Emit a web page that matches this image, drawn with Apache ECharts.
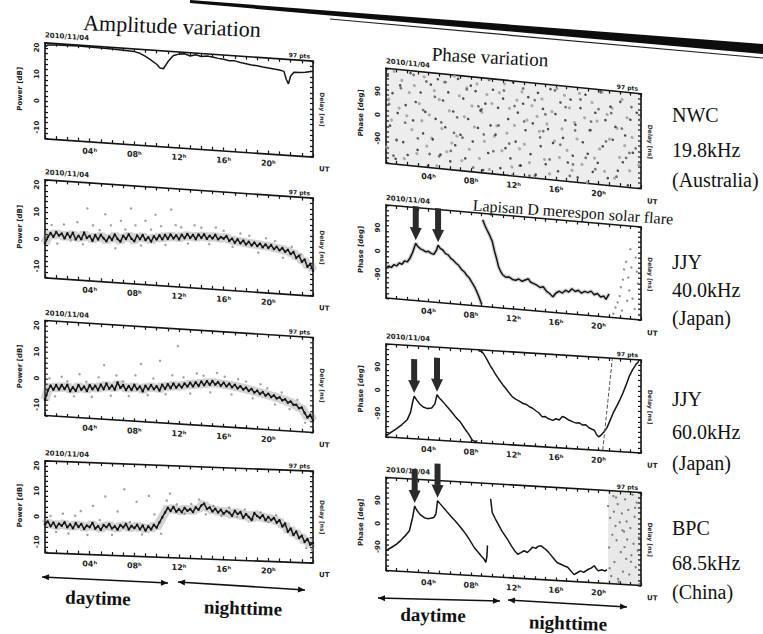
<!DOCTYPE html>
<html>
<head>
<meta charset="utf-8">
<script src="https://cdn.jsdelivr.net/npm/echarts@6/dist/echarts.min.js"></script>
<style>
html, body { margin: 0; padding: 0; background: #fff; }
#page { position: relative; width: 763px; height: 634px; overflow: hidden; }
#base { position: absolute; left: 0; top: 0; width: 763px; height: 634px; }
.panel { position: absolute; }
</style>
</head>
<body>
<div id="page"><div id="base"></div></div>
<script>
// tick labels
const hourTickValues = [4, 8, 12, 16, 20];
const hourTickLabels = ['04ʰ', '08ʰ', '12ʰ', '16ʰ', '20ʰ'];
const ampTickValues = [-10, 0, 10, 20];
const phaseTickValues = [-90, 0, 90];
const dateLabel = '2010/11/04';
const stations = [
  ['NWC', '19.8kHz', '(Australia)'],
  ['JJY', '40.0kHz', '(Japan)'],
  ['JJY', '60.0kHz', '(Japan)'],
  ['BPC', '68.5kHz', '(China)']
];

// NWC amplitude [dB]
const nwcAmpHours = [0, 0.3, 1, 2, 3, 4, 5, 6, 7, 8, 8.5, 9, 9.5, 10, 10.3, 10.6, 11, 11.5, 12, 12.5,
  13, 13.5, 14, 14.5, 15, 15.5, 16, 16.5, 17, 17.5, 18, 18.5, 19, 19.5, 20, 20.5, 21, 21.4, 21.6, 21.8,
  22, 22.3, 22.8, 23.3, 24];
const nwcAmpValues = [20.5, 21.3, 21.5, 21.6, 21.7, 21.6, 21.5, 21.4, 21.2, 21.0, 20.5, 19.5, 18.2, 16.8, 15.5, 15.3, 18.0, 20.5, 21.2, 21.5,
  20.8, 21.4, 20.9, 21.2, 21.0, 20.6, 20.4, 20.0, 20.1, 19.6, 19.3, 19.0, 18.8, 18.5, 18.3, 18.0, 17.8, 17.4, 14.5, 12.8,
  15.8, 17.3, 17.4, 17.6, 18.2];

// amplitude every 15 min from 00 UT [dB]
const ampStep = 0.25;
const jjy40Amp = [
  -1.5, 1.0, 2.5, 1.2, 3.0, 1.8, 2.6, 0.9,
  2.8, 1.4, 3.2, 0.8, 2.2, 1.0, 3.5, 1.6,
  2.4, 0.7, 2.9, 1.3, 3.1, 1.9, 0.9, 2.7,
  1.5, 3.6, 2.0, 1.1, 3.3, 2.2, 4.0, 2.4,
  1.6, 3.8, 2.5, 4.1, 2.3, 3.4, 1.9, 3.9,
  2.8, 4.4, 3.0, 4.7, 3.3, 5.0, 3.6, 4.8,
  3.4, 5.2, 4.0, 5.6, 4.2, 5.4, 3.9, 5.7,
  4.5, 5.9, 4.3, 5.5, 4.6, 6.0, 4.4, 5.3,
  4.8, 5.8, 4.1, 5.0, 3.6, 4.9, 3.5, 4.6,
  3.2, 4.3, 3.0, 4.1, 2.9, 3.9, 2.6, 3.7,
  2.5, 3.6, 2.2, 3.1, 1.9, 2.8, 1.5, 2.3,
  0.8, 1.6, -0.5, 0.4, -1.8, -0.9, -3.5, -2.4,
  -4.8];
const jjy60Amp = [
  -8.0, -4.5, -2.5, -4.0, -2.2, -3.8, -2.0, -3.5,
  -1.8, -4.2, -2.6, -3.9, -1.6, -3.3, -2.1, -3.7,
  -1.4, -2.9, -1.5, -3.1, -0.9, -2.6, -0.4, -2.3,
  -1.0, -2.5, 0.3, -1.7, -0.6, -2.4, -0.8, -2.2,
  -0.2, -1.9, -0.7, -2.5, -0.3, -1.6, 0.1, -1.4,
  -0.2, -1.8, 0.5, -1.0, 0.8, -0.6, 1.2, -0.3,
  1.0, -0.1, 1.5, 0.4, 1.9, 0.6, 2.2, 0.9,
  2.6, 1.3, 2.9, 1.6, 3.1, 1.8, 2.8, 1.5,
  2.7, 1.4, 2.5, 1.2, 2.2, 0.9, 1.8, 0.6,
  1.4, 0.2, 1.0, -0.3, 0.5, -0.7, 0.1, -1.2,
  -0.4, -1.6, -0.9, -2.0, -1.5, -2.6, -2.1, -3.3,
  -2.8, -4.0, -3.9, -5.2, -4.8, -6.8, -8.5, -7.4,
  -9.5];
const bpcAmp = [
  -3.0, -1.8, -3.6, -2.2, -4.0, -2.5, -3.3, -1.9,
  -3.8, -2.6, -4.1, -2.0, -3.5, -2.3, -4.2, -2.8,
  -3.4, -1.7, -3.9, -2.9, -4.3, -2.4, -3.2, -1.9,
  -3.6, -2.7, -4.0, -2.1, -3.0, -1.6, -3.7, -2.3,
  -3.1, -1.8, -3.5, -2.0, -3.9, -2.2, -3.4, -1.5,
  -2.6, -0.5, 1.5, 3.5, 5.4, 4.2, 5.8, 4.0,
  5.0, 3.9, 5.6, 4.5, 5.2, 4.1, 6.0, 5.1,
  6.8, 7.6, 5.5, 6.2, 4.6, 5.7, 4.3, 5.4,
  3.9, 5.0, 4.4, 3.2, 5.2, 4.0, 4.8, 2.6,
  4.1, 3.0, 1.9, 4.6, 3.5, 2.8, 3.9, 2.0,
  3.3, 2.1, 3.0, 1.2, 2.2, -0.2, 1.0, -2.2,
  -0.9, -3.4, -2.0, -4.5, -3.6, -6.0, -4.8, -7.0,
  -6.2];

// scattered amplitude samples
const jjy40SpreadHours = [0.6, 1.1, 1.7, 2.3, 2.9, 3.4, 3.8, 4.3, 4.9, 5.4, 5.9, 6.3, 6.8, 7.2, 7.7, 8.1, 8.6, 9.0, 9.5, 9.9,
  10.4, 10.8, 11.3, 11.7, 12.2, 12.8, 13.4, 14.0, 14.7, 15.3, 16.0, 16.8, 17.5, 18.3, 19.1, 19.8, 20.6, 21.3, 22.1, 22.9];
const jjy40SpreadValues = [5.5, -1.2, 6.0, 0.3, 7.2, -0.8, 12.5, 6.4, 4.8, 10.8, 6.9, -1.5, 8.8, 5.7, 13.6, 7.5, 0.2, 9.4, 6.3, 11.9,
  7.8, 1.0, 14.2, 8.6, 7.9, 2.1, 9.0, 8.3, 2.4, 8.7, 7.7, 2.0, 7.1, 6.5, 0.5, 6.0, 5.2, -0.8, 3.5, 0.9];
const jjy60SpreadHours = [0.4, 0.9, 1.5, 2.0, 2.6, 3.1, 3.7, 4.2, 4.8, 5.3, 5.9, 6.4, 7.0, 7.5, 8.1, 8.6, 9.2, 9.7, 10.3, 10.8,
  11.4, 11.9, 12.4, 13.0, 13.6, 14.2, 14.8, 15.4, 16.1, 16.7, 17.3, 18.0, 18.6, 19.3, 19.9, 20.6, 21.2, 21.9, 22.6, 23.3];
const jjy60SpreadValues = [0.2, -6.5, 1.1, -0.5, -6.0, 2.5, -0.2, -5.8, 1.8, 6.5, -4.9, 2.9, 0.8, -4.6, 3.4, 7.8, -3.8, 2.6, 9.5, -3.0,
  4.3, 15.5, 3.8, -2.2, 5.6, 4.9, -1.3, 6.2, 5.0, -1.6, 4.4, 3.7, -2.5, 3.0, 1.6, -4.3, 0.4, -5.7, -2.0, -10.5];
const bpcSpreadHours = [0.5, 1.0, 1.6, 2.1, 2.7, 3.2, 3.8, 4.3, 4.9, 5.4, 6.0, 6.5, 7.1, 7.6, 8.2, 8.7, 9.3, 9.8, 10.4, 10.9,
  11.2, 11.8, 12.5, 13.1, 13.8, 14.4, 15.1, 15.8, 16.5, 17.2, 17.9, 18.6, 19.3, 20.0, 20.7, 21.4, 22.1, 22.8, 23.4, 23.9];
const bpcSpreadValues = [0.4, -5.8, 1.5, -6.2, 0.9, 2.8, -6.5, 5.0, -0.5, 8.9, -6.1, 3.2, 12.0, -0.8, 7.3, -5.5, 9.8, 2.6, -4.9, 8.2,
  11.0, 6.9, 3.3, 7.2, 9.1, 3.4, 6.8, 3.1, 6.4, 2.7, 5.9, 2.2, 5.0, 1.4, 4.1, 0.0, -1.6, -4.2, -8.3, -9.1];

// NWC phase [deg], no lock
const nwcPhaseDarkHours = [
  0.15, 0.38, 0.61, 0.9, 1.1, 1.33, 1.62, 1.85, 2.04, 2.31,
  2.55, 2.8, 2.97, 3.26, 3.49, 3.7, 3.95, 4.22, 4.4, 4.67,
  4.88, 5.13, 5.37, 5.58, 5.86, 6.05, 6.33, 6.52, 6.78, 7.01,
  7.27, 7.46, 7.73, 7.98, 8.16, 8.43, 8.65, 8.89, 9.14, 9.35,
  9.62, 9.84, 10.07, 10.31, 10.55, 10.76, 11.02, 11.24, 11.5, 11.71,
  11.96, 12.2, 12.41, 12.68, 12.9, 13.13, 13.39, 13.6, 13.82, 14.09,
  14.3, 14.56, 14.77, 15.03, 15.25, 15.48, 15.72, 15.95, 16.19, 16.42,
  16.66, 16.88, 17.11, 17.37, 17.58, 17.83, 18.04, 18.3, 18.52, 18.77,
  18.99, 19.24, 19.46, 19.7, 19.93, 20.18, 20.4, 20.65, 20.87, 21.12,
  21.34, 21.59, 21.82, 22.05, 22.29, 22.51, 22.76, 23.0, 23.23, 23.6];
const nwcPhaseDarkValues = [
  152, -37, 88, -161, 14, 120, -95, 47, -142, 171,
  -8, 63, -119, 101, -54, 29, -176, 135, -73, 6,
  158, -128, 79, -22, 112, -150, 41, -87, 167, -45,
  94, -133, 18, 146, -66, 127, -12, 55, -171, 83,
  -104, 2, 139, -31, 72, -157, 109, -79, 33, -116,
  175, -50, 61, -139, 97, -3, 124, -92, 26, -168,
  144, -58, 85, -125, 10, 163, -41, 70, -147, 116,
  -18, 50, -110, 131, -82, 37, -163, 102, -27, 155,
  -69, 22, -136, 90, -100, 178, -35, 66, -154, 119,
  -6, 44, -122, 141, -88, 15, -174, 77, -48, 106];
const nwcPhaseGrayHours = [
  0.05, 0.27, 0.52, 0.77, 0.98, 1.24, 1.49, 1.72, 1.96, 2.2,
  2.43, 2.67, 2.91, 3.14, 3.37, 3.6, 3.84, 4.08, 4.31, 4.55,
  4.79, 5.02, 5.26, 5.49, 5.73, 5.97, 6.2, 6.44, 6.67, 6.91,
  7.14, 7.38, 7.61, 7.85, 8.09, 8.32, 8.56, 8.79, 9.03, 9.26,
  9.5, 9.73, 9.97, 10.2, 10.44, 10.67, 10.91, 11.15, 11.38, 11.62,
  11.85, 12.09, 12.32, 12.56, 12.8, 13.03, 13.27, 13.5, 13.74, 13.97,
  14.21, 14.44, 14.68, 14.92, 15.15, 15.39, 15.62, 15.86, 16.09, 16.33,
  16.57, 16.8, 17.04, 17.27, 17.51, 17.74, 17.98, 18.21, 18.45, 18.69,
  18.92, 19.16, 19.39, 19.63, 19.86, 20.1, 20.34, 20.57, 20.81, 21.04,
  21.28, 21.51, 21.75, 21.98, 22.22, 22.46, 22.69, 22.93, 23.16, 23.8];
const nwcPhaseGrayValues = [
  -120, 64, -15, 171, -88, 33, 140, -157, 7, 96,
  -44, 125, -133, 58, -6, 162, -101, 19, -69, 113,
  -172, 81, -29, 149, -115, 42, -80, 176, -52, 103,
  -143, 25, 136, -97, 69, -10, 155, -128, 49, -61,
  118, -166, 86, -38, 3, 130, -90, 166, -21, 74,
  -148, 11, 108, -76, 142, -57, 36, -125, 93, -175,
  54, -2, 122, -107, 29, -160, 78, -33, 168, -94,
  16, 145, -64, 99, -138, 45, -17, 158, -112, 67,
  -179, 21, 128, -83, 59, -46, 172, -130, 88, -5,
  114, -152, 39, -71, 151, -24, 83, -118, 10, -92];
const nwcPhaseMidHours = [
  0.3, 0.7, 1.4, 1.8, 2.6, 3.0, 3.5, 4.1, 4.6, 5.2,
  5.6, 6.1, 6.7, 7.2, 7.6, 8.2, 8.7, 9.2, 9.7, 10.1,
  10.6, 11.1, 11.6, 12.1, 12.6, 13.0, 13.5, 14.0, 14.5, 15.0,
  15.4, 15.9, 16.4, 16.9, 17.3, 17.8, 18.3, 18.8, 19.3, 19.7,
  20.2, 20.7, 21.2, 21.7, 22.2, 22.6, 23.1, 23.5, 23.9, 1.0,
  3.8, 6.4, 9.0, 11.9, 14.8, 17.6, 20.0, 22.9, 12.9, 5.0];
const nwcPhaseMidValues = [
  45, -150, 110, -20, 165, -75, 35, -130, 90, -5,
  150, -110, 20, -55, 130, -165, 70, -35, 175, -95,
  5, 140, -60, 85, -140, 30, -175, 115, -25, 65,
  -105, 160, -45, 100, -160, 15, 135, -85, 55, -125,
  170, -15, 95, -145, 40, -70, 125, -30, 80, -90,
  145, -40, 60, -180, 0, -115, 105, -50, 155, -135];

// JJY 40 kHz phase [deg]
const jjy40PhaseHours = [0, 0.25, 0.5, 0.75, 1.0, 1.25, 1.5, 1.75, 2.0, 2.25, 2.5, 2.8, 3.0, 3.25, 3.5, 3.75, 4.0, 4.25, 4.5,
  4.75, 4.9, 5.1, 5.35, 5.6, 5.85, 6.1, 6.35, 6.6, 6.85, 7.1, 7.35, 7.6, 7.85, 8.1, 8.35, 8.6, 8.8, 9.0, null,
  9.1, 9.3, 9.5, 9.75, 10.0, 10.2, 10.4, 10.6, 10.8, 11.0, 11.3, 11.6, 11.9, 12.2, 12.5, 12.8, 13.1, 13.4, 13.6, 13.9,
  14.2, 14.5, 14.8, 15.1, 15.4, 15.7, 16.0, 16.3, 16.6, 16.9, 17.2, 17.5, 17.8, 18.1, 18.4, 18.7, 19.0, 19.3, 19.6, 19.9,
  20.2, 20.5, 20.7, 21.0];
const jjy40PhaseValues = [-64, -55, -60, -48, -52, -40, -44, -30, -33, -18, 5, 42, 30, 22, 18, 12, 15, 8, 5,
  22, 42, 30, 25, 12, 8, -5, -12, -22, -30, -44, -52, -65, -75, -92, -108, -130, -150, -172, null,
  155, 135, 118, 98, 75, 40, 10, -22, -40, -52, -60, -58, -66, -68, -62, -70, -64, -58, -70, -75,
  -80, -88, -84, -100, -108, -120, -104, -96, -102, -90, -96, -82, -92, -86, -96, -88, -92, -85, -98, -92,
  -105, -100, -112, -90];
const jjy40NoiseHours = [21.4, 21.6, 21.8, 22.0, 22.1, 22.2, 22.3, 22.4, 22.6, 22.7, 22.8, 22.9, 23.0, 23.1, 23.2, 23.4, 23.5, 23.6, 23.7, 23.8];
const jjy40NoiseValues = [-165, -140, -120, -95, -60, -150, -30, 10, 40, -110, -20, -70, 90, 20, -100, -140, 60, 5, -40, -160];
const jjy40Flares = [[2.8, 42], [4.9, 42]];

// JJY 60 kHz phase [deg]
const jjy60PhaseHours = [0, 0.5, 1.0, 1.5, 2.0, 2.3, 2.5, 2.65, 2.9, 3.2, 3.5, 3.9, 4.3, 4.6, 4.8, 5.0, 5.4, 5.8, 6.2, 6.6,
  7.0, 7.4, 7.8, 8.1, 8.4, 8.6, null, 8.7, 9.0, 9.2, 9.5, 9.8, 10.0, 10.3, 10.6, 11.0, 11.3, 11.6, 11.9, 12.2,
  12.5, 12.9, 13.2, 13.5, 13.8, 14.1, 14.4, 14.7, 15.0, 15.3, 15.7, 16.0, 16.3, 16.6, 16.9, 17.2, 17.6, 17.9, 18.2, 18.5,
  18.8, 19.1, 19.4, 19.6, 19.8, 20.0, 20.2, 20.5, 20.8, 21.1, 21.4, 21.7, 22.0, 22.3, 22.6, 22.9, 23.2, 23.5, 23.8];
const jjy60PhaseValues = [-176, -160, -145, -128, -108, -80, -40, -15, -30, -45, -55, -60, -57, -40, -4, -15, -32, -50, -68, -88,
  -104, -128, -150, -170, -176, -172, null, 176, 174, 165, 145, 122, 110, 90, 72, 50, 36, 20, 6, -2,
  -8, -17, -20, -28, -33, -42, -50, -64, -62, -70, -75, -68, -72, -58, -62, -70, -76, -80, -78, -86,
  -84, -95, -100, -103, -118, -128, -122, -108, -90, -60, -30, -5, 20, 48, 80, 115, 140, 160, 175];
const jjy60WrapHours = [20.4, 21.3];
const jjy60WrapValues = [-178, 178];
const jjy60Flares = [[2.65, -15], [4.8, -4]];

// BPC phase [deg]
const bpcPhaseHours = [0, 0.5, 1.0, 1.4, 1.8, 2.2, 2.5, 2.7, 2.9, 3.2, 3.6, 3.9, 4.2, 4.5, 4.7, 4.85, 5.1, 5.5, 5.8, 6.1,
  6.5, 6.9, 7.2, 7.5, 7.9, 8.3, 8.6, 9.0, 9.2, 9.4, 9.5, 9.55, null, 9.85, 10.0, 10.3, 10.6, 10.9, 11.2, 11.5,
  11.8, 12.1, 12.4, 12.7, 13.0, 13.3, 13.5, 13.8, 14.1, 14.3, 14.6, 14.9, 15.2, 15.5, 15.8, 16.1, 16.4, 16.8, 17.1, 17.4,
  17.7, 18.0, 18.3, 18.6, 19.0, 19.3, 19.6, 19.8, 20.0, 20.3, 20.6, 20.8];
const bpcPhaseValues = [-103, -90, -76, -60, -42, -21, 30, 76, 60, 45, 33, 30, 32, 36, 50, 102, 90, 72, 58, 45,
  28, 10, -5, -20, -44, -71, -85, -104, -112, -126, -100, -60, null, 121, 68, 44, 22, 0, -18, -36,
  -56, -74, -87, -80, -72, -78, -70, -56, -60, -52, -49, -58, -68, -82, -96, -110, -115, -122, -126, -140,
  -153, -145, -137, -142, -130, -124, -114, -125, -133, -128, -132, -126];
const bpcNoiseHours = [20.9, 21.0, 21.1, 21.2, 21.3, 21.4, 21.5, 21.6, 21.7, 21.8, 21.9, 22.0, 22.1, 22.2, 22.3, 22.4, 22.5, 22.6, 22.7, 22.8,
  22.9, 23.0, 23.1, 23.2, 23.3, 23.4, 23.5, 23.6, 23.7, 23.8, 21.05, 21.45, 21.85, 22.25, 22.65, 23.05, 23.45, 23.85, 22.45, 21.65];
const bpcNoiseValues = [120, -40, 75, -150, 10, 160, -95, 45, -10, 130, -170, 60, -55, 95, -130, 25, 150, -80, -5, 110,
  -140, 40, -65, 170, -20, 85, -110, 140, -45, 5, -120, 100, -160, 30, 65, -90, 120, -175, -35, 155];
const bpcNoiseSpan = [20.9, 24];
const bpcFlares = [[2.7, 76], [4.85, 102]];

const serif = 'Liberation Serif';
const sans = 'DejaVu Sans';
const ink = '#151515';

// frame of each panel; skew = slope of the photographed page
const panels = [
  { left: 45, top: 51.5, width: 268, height: 95.5, skew: 3.9, amp: true },
  { left: 45, top: 189, width: 268, height: 97.5, skew: 3.9, amp: true },
  { left: 45, top: 328.5, width: 268, height: 95, skew: 3.6, amp: true },
  { left: 45, top: 466, width: 268, height: 91.5, skew: 2.2, amp: true },
  { left: 386, top: 81, width: 255, height: 94.5, skew: 5.7, amp: false, pts: true },
  { left: 386, top: 216, width: 255, height: 93, skew: 4.9, amp: false, pts: false },
  { left: 386, top: 351.5, width: 255, height: 93, skew: 3.6, amp: false, pts: true },
  { left: 386, top: 484.5, width: 255, height: 93, skew: 3.4, amp: false, pts: true }
];
const pad = { l: 40, t: 20, r: 34, b: 30 };

const pairs = (hs, vs) => hs.map((h, i) => [h, vs[i]]);
const steps = vs => vs.map((v, i) => [i * ampStep, v]);
const arrowPath = 'path://M3,0L9,0L9,20L12,20L6,32L0,20L3,20Z';

const spread = (hs, vs, color, size) => ({ type: 'scatter', data: pairs(hs, vs), symbolSize: size, itemStyle: { color } });
const halo = (data, width) => ({ type: 'line', data, showSymbol: false, lineStyle: { color: 'rgba(110,110,110,0.3)', width } });
const core = (data, dots) => ({
  type: 'line', data, symbol: 'circle', showSymbol: dots, symbolSize: 2.5,
  itemStyle: { color: ink }, lineStyle: { color: ink, width: 1.5 }
});
const flares = pts => ({
  symbol: arrowPath, symbolSize: [12, 34], symbolOffset: [0, -20],
  itemStyle: { color: '#2b2b2b' }, label: { show: false },
  data: pts.map(c => ({ coord: c }))
});
const band = (amp, hs, vs) => [spread(hs, vs, '#8c8c8c', 2.5), halo(steps(amp), 9), core(steps(amp), true)];

const panelSeries = [
  [core(pairs(nwcAmpHours, nwcAmpValues), false)],
  band(jjy40Amp, jjy40SpreadHours, jjy40SpreadValues),
  band(jjy60Amp, jjy60SpreadHours, jjy60SpreadValues),
  band(bpcAmp, bpcSpreadHours, bpcSpreadValues),
  [
    Object.assign(spread(nwcPhaseGrayHours, nwcPhaseGrayValues, '#9a9a9a', 3.2), {
      markArea: { silent: true, itemStyle: { color: 'rgba(0,0,0,0.07)' }, data: [[{ xAxis: 0 }, { xAxis: 24 }]] }
    }),
    spread(nwcPhaseMidHours, nwcPhaseMidValues, '#555', 2.8),
    spread(nwcPhaseDarkHours, nwcPhaseDarkValues, '#222', 2.6)
  ],
  [
    halo(pairs(jjy40PhaseHours, jjy40PhaseValues), 4),
    Object.assign(core(pairs(jjy40PhaseHours, jjy40PhaseValues), false), { markPoint: flares(jjy40Flares) }),
    spread(jjy40NoiseHours, jjy40NoiseValues, '#777', 2.4)
  ],
  [
    Object.assign(core(pairs(jjy60PhaseHours, jjy60PhaseValues), false), { markPoint: flares(jjy60Flares) }),
    { type: 'line', data: pairs(jjy60WrapHours, jjy60WrapValues), showSymbol: false, lineStyle: { color: '#555', width: 1, type: 'dashed' } }
  ],
  [
    Object.assign(core(pairs(bpcPhaseHours, bpcPhaseValues), false), { markPoint: flares(bpcFlares) }),
    Object.assign(spread(bpcNoiseHours, bpcNoiseValues, '#666', 2.4), {
      markArea: { silent: true, itemStyle: { color: 'rgba(0,0,0,0.09)' }, data: [[{ xAxis: bpcNoiseSpan[0] }, { xAxis: bpcNoiseSpan[1] }]] }
    })
  ]
];

function tinyText(text, x, y, size, align, vAlign) {
  return {
    type: 'text', x, y,
    style: { text, fontSize: size, fontWeight: 'bold', fontFamily: sans, fill: '#222', align, verticalAlign: vAlign, textAlign: align, textVerticalAlign: vAlign }
  };
}

function panelOption(p, i) {
  const frame = { onZero: false, lineStyle: { color: ink, width: 1.6 } };
  const tick = { inside: true, length: 3, lineStyle: { color: ink, width: 1.2 } };
  const yMin = p.amp ? -14 : -180, yMax = p.amp ? 22 : 180, yStep = p.amp ? 2 : 20;
  const labelFont = { fontSize: 8, fontWeight: 'bold', fontFamily: sans, color: '#222' };
  const graphic = [
    tinyText(dateLabel, pad.l, pad.t - 4, 7, 'left', 'bottom'),
    tinyText('UT', pad.l + p.width + 6, pad.t + p.height + 12, 7, 'left', 'middle')
  ];
  if (p.pts !== false) graphic.push(tinyText('97 pts', pad.l + p.width - 3, pad.t - 2, 6, 'right', 'bottom'));
  return {
    animation: false,
    backgroundColor: 'transparent',
    grid: { left: pad.l, top: pad.t, width: p.width, height: p.height },
    xAxis: [
      {
        type: 'value', min: 0, max: 24, interval: 1,
        axisLine: frame, axisTick: tick, splitLine: { show: false },
        axisLabel: Object.assign({
          customValues: hourTickValues,
          formatter: v => hourTickLabels[hourTickValues.indexOf(v)], margin: 6
        }, labelFont)
      },
      {
        type: 'value', position: 'top', min: 0, max: 24, interval: 1,
        axisLine: frame, axisTick: tick, splitLine: { show: false }, axisLabel: { show: false }
      }
    ],
    yAxis: [
      {
        type: 'value', min: yMin, max: yMax, interval: yStep,
        name: p.amp ? 'Power [dB]' : 'Phase [deg]', nameLocation: 'middle', nameGap: 22,
        nameTextStyle: { fontSize: 7, fontWeight: 'bold', fontFamily: sans, color: '#222' },
        axisLine: frame, axisTick: tick, splitLine: { show: false },
        axisLabel: Object.assign({
          customValues: p.amp ? ampTickValues : phaseTickValues, rotate: 90, margin: 5
        }, labelFont, { fontSize: 7 })
      },
      {
        type: 'value', position: 'right', min: yMin, max: yMax, interval: yStep,
        name: 'Delay [ns]', nameLocation: 'middle', nameGap: 7, nameRotate: -90,
        nameTextStyle: { fontSize: 6, fontWeight: 'bold', fontFamily: sans, color: '#333' },
        axisLine: frame, axisTick: tick, splitLine: { show: false }, axisLabel: { show: false }
      }
    ],
    series: panelSeries[i],
    graphic
  };
}

const page = document.getElementById('page');
panels.forEach((p, i) => {
  const div = document.createElement('div');
  div.className = 'panel';
  const w = p.width + pad.l + pad.r, h = p.height + pad.t + pad.b;
  Object.assign(div.style, {
    left: (p.left - pad.l) + 'px', top: (p.top - pad.t) + 'px',
    width: w + 'px', height: h + 'px',
    transformOrigin: (pad.l + p.width / 2) + 'px ' + (pad.t + p.height / 2) + 'px',
    transform: 'skewY(' + p.skew + 'deg)'
  });
  page.appendChild(div);
  echarts.init(div, null, { renderer: 'svg' }).setOption(panelOption(p, i));
});

// page captions
function txt(text, x, y, size, weight, rot, align) {
  return {
    type: 'text', x, y, rotation: rot || 0,
    style: {
      text, fontSize: size, fontWeight: weight, fontFamily: serif, fill: '#111',
      align: align || 'center', verticalAlign: 'middle', textAlign: align || 'center', textVerticalAlign: 'middle'
    }
  };
}
function dblArrow(x1, y1, x2, y2) {
  const a = Math.atan2(y2 - y1, x2 - x1), c = Math.cos(a), s = Math.sin(a), L = 7, W = 3;
  const head = (x, y, d) => [[x, y], [x - d * L * c - W * s, y - d * L * s + W * c], [x - d * L * c + W * s, y - d * L * s - W * c]];
  return [
    { type: 'line', shape: { x1, y1, x2, y2 }, style: { stroke: '#111', lineWidth: 1.6 } },
    { type: 'polygon', shape: { points: head(x2, y2, 1) }, style: { fill: '#111' } },
    { type: 'polygon', shape: { points: head(x1, y1, -1) }, style: { fill: '#111' } }
  ];
}

const baseGraphic = [
  { type: 'polygon', shape: { points: [[190, 0], [763, 44], [763, 54], [190, 3]] }, style: { fill: '#0d0d0d' } },
  { type: 'line', shape: { x1: 330, y1: 19, x2: 763, y2: 58 }, style: { stroke: '#222', lineWidth: 1.2 } },
  txt('Amplitude variation', 172, 26, 22, 'normal', -0.04),
  txt('Phase variation', 490, 57, 19, 'normal', -0.05),
  txt('Lapisan D merespon solar flare', 573, 212, 16, 'normal', -0.07),
  txt('daytime', 98, 598, 19, 'bold', -0.03),
  txt('nighttime', 243, 608, 19, 'bold', -0.03),
  txt('daytime', 433, 615, 19, 'bold', -0.02),
  txt('nighttime', 568, 623, 19, 'bold', -0.03),
  ...dblArrow(42, 577, 168, 583),
  ...dblArrow(178, 582, 305, 590),
  ...dblArrow(378, 598, 500, 601),
  ...dblArrow(508, 600, 627, 607)
];
const stationRows = [[115, 150, 180], [262, 290, 318], [399, 432, 463], [528, 563, 592]];
stations.forEach((st, k) => {
  st.forEach((line, j) => baseGraphic.push(txt(line, 672, stationRows[k][j], 20, 'normal', 0, 'left')));
});

echarts.init(document.getElementById('base'), null, { renderer: 'svg' }).setOption({
  backgroundColor: '#fff',
  animation: false,
  graphic: baseGraphic
});
</script>
</body>
</html>
